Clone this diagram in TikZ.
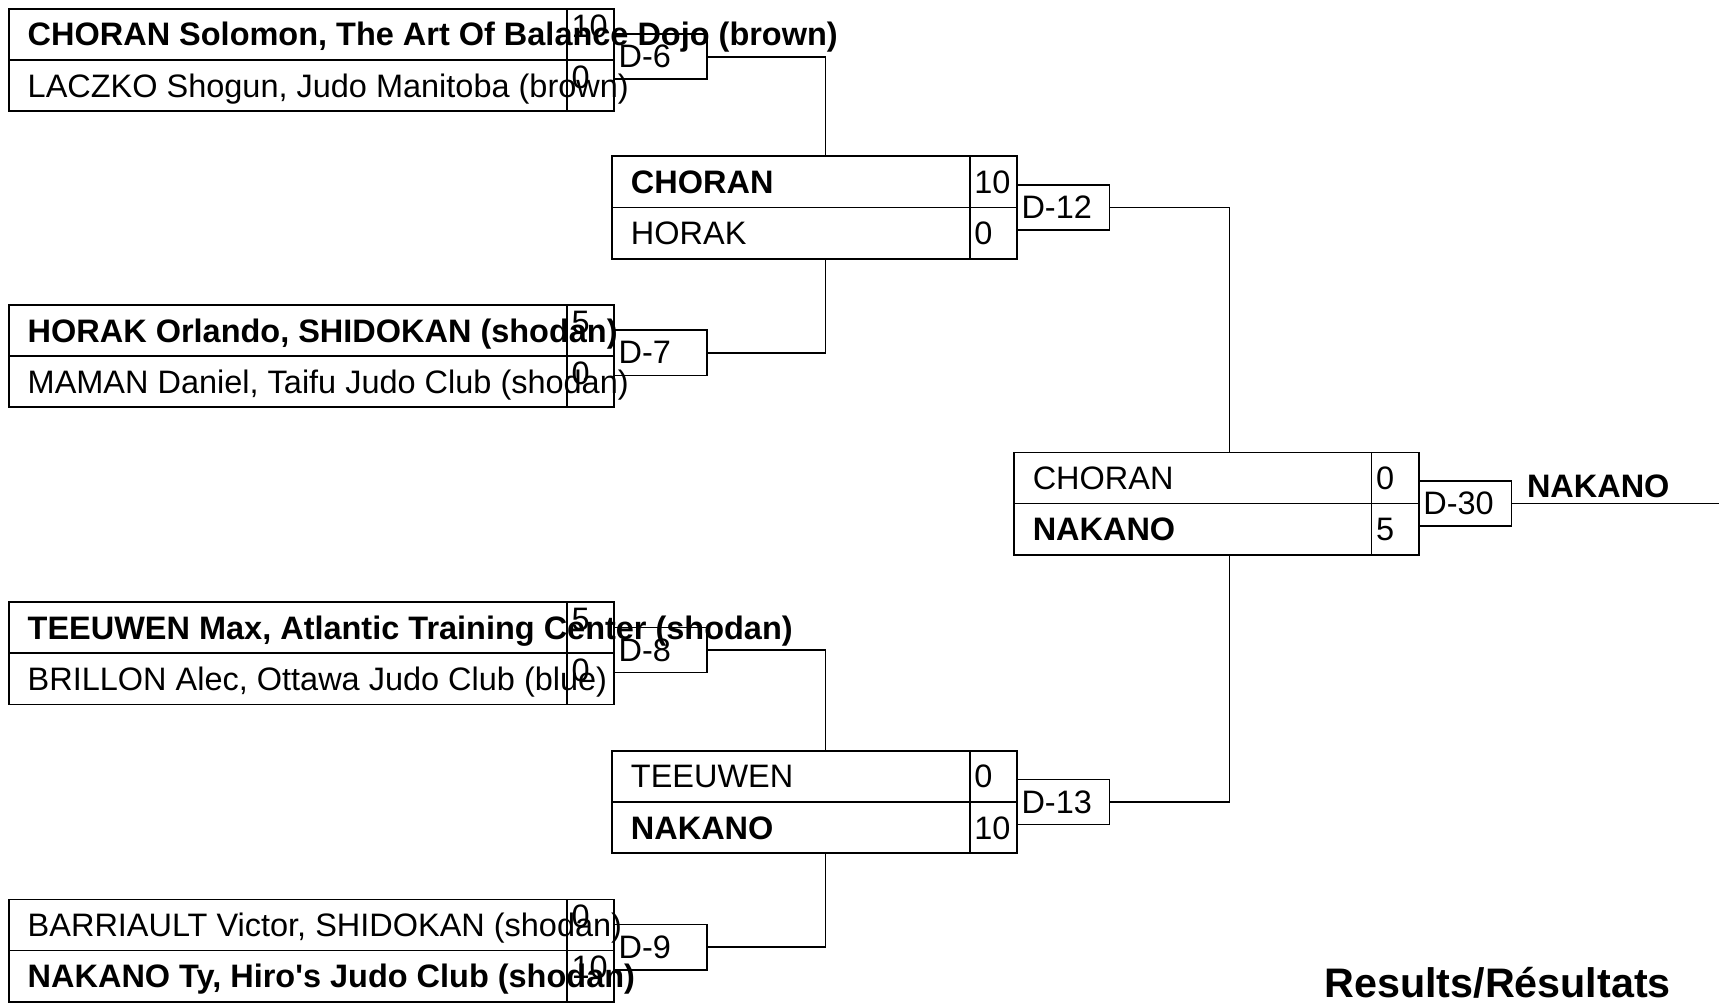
\documentclass[tikz,border=0pt]{standalone}
\usepackage{fontspec}
\setmainfont{Liberation Sans}
\usetikzlibrary{positioning}

\tikzset{
  cell/.style={draw, line width=1.5pt, inner sep=0pt, outer sep=0pt, minimum height=46.5pt, anchor=north west},
  txt/.style={anchor=base west, inner sep=0pt, font=\fontsize{29.5}{34}\selectfont},
  dbox/.style={draw, line width=1.5pt, outer sep=0pt, inner xsep=4pt, inner ysep=0pt, text width=76pt, align=left, minimum height=41pt, anchor=west, font=\fontsize{29.5}{34}\selectfont},
  link/.style={line width=1.5pt},
  scoreup/.style={},
  dup/.style={},
}

% one bout: id, top left, name width, upper name, upper score, lower name, lower score, D label
\newcommand{\bout}[8]{%
  \node[cell, minimum width=#3] (#1-a) at #2 {};
  \node[cell, minimum width=43pt] (#1-as) at (#1-a.north east) {};
  \node[cell, minimum width=#3] (#1-b) at (#1-a.south west) {};
  \node[cell, minimum width=43pt] (#1-bs) at (#1-a.south east) {};
  \node[txt, xshift=17pt, yshift=-10.5pt] (#1-an) at (#1-a.west) {#4};
  \node[txt, xshift=4pt, yshift=-10.5pt, scoreup] (#1-asc) at (#1-as.west) {#5};
  \node[txt, xshift=17pt, yshift=-10.5pt] (#1-bn) at (#1-b.west) {#6};
  \node[txt, xshift=4pt, yshift=-10.5pt, scoreup] (#1-bsc) at (#1-bs.west) {#7};
  \node[dbox, dup] (#1-d) at (#1-as.south east) {#8};
}

\begin{document}
\begin{tikzpicture}[x=1pt, y=-1pt]
	\useasboundingbox (0,0) rectangle (1568,912);
	%first round
	\begin{scope}[scoreup/.style={yshift=8pt}, dup/.style={yshift=3pt}]
	\bout{p1}{(8,8)}{507pt}{\bfseries CHORAN Solomon, The Art Of Balance Dojo (brown)}{10}{LACZKO Shogun, Judo Manitoba (brown)}{0}{D-6}
	\bout{p2}{(8,277)}{507pt}{\bfseries HORAK Orlando, SHIDOKAN (shodan)}{5}{MAMAN Daniel, Taifu Judo Club (shodan)}{0}{D-7}
	\bout{p3}{(8,547)}{507pt}{\bfseries TEEUWEN Max, Atlantic Training Center (shodan)}{5}{BRILLON Alec, Ottawa Judo Club (blue)}{0}{D-8}
	\bout{p4}{(8,817)}{507pt}{BARRIAULT Victor, SHIDOKAN (shodan)}{0}{\bfseries NAKANO Ty, Hiro\textquotesingle s Judo Club (shodan)}{10}{D-9}
	\end{scope}
	%second round and final
	\bout{q1}{(556,142)}{325pt}{\bfseries CHORAN}{10}{HORAK}{0}{D-12}
	\bout{q2}{(556,682)}{325pt}{TEEUWEN}{0}{\bfseries NAKANO}{10}{D-13}
	\bout{f}{(921,411)}{325pt}{CHORAN}{0}{\bfseries NAKANO}{5}{D-30}
	\coordinate (col1) at (750,0);
	\coordinate (col2) at (1117,0);
	\coordinate (finish) at (1562,0);
	\draw[link] (p1-d.east) -| (col1 |- q1-a.north);
	\draw[link] (p2-d.east) -| (col1 |- q1-b.south);
	\draw[link] (p3-d.east) -| (col1 |- q2-a.north);
	\draw[link] (p4-d.east) -| (col1 |- q2-b.south);
	\draw[link] (q1-d.east) -| (col2 |- f-a.north);
	\draw[link] (q2-d.east) -| (col2 |- f-b.south);
	\draw[link] (f-d.east) -- (finish |- f-d.east);
	\node[txt] (champ) at (1387,452) {\bfseries NAKANO};
	\node[txt, font=\fontsize{37.5}{44}\selectfont\bfseries] (title) at (1203,906) {Results/Résultats};
\end{tikzpicture}
\end{document}
